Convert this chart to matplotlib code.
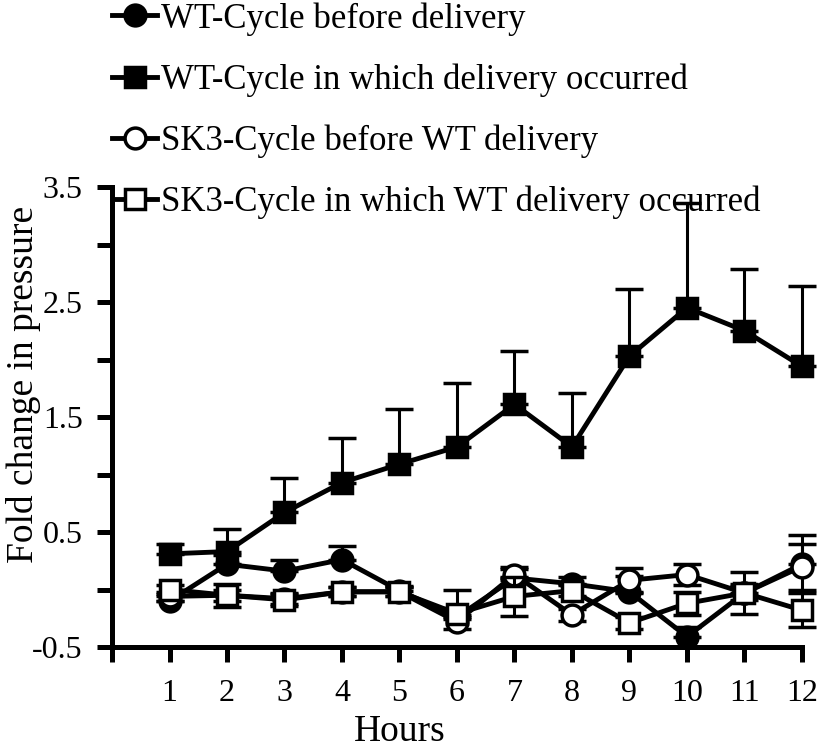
import matplotlib
matplotlib.use('Agg')
from matplotlib import pyplot as plt
from matplotlib.lines import Line2D

plt.rcParams['font.family'] = ['Liberation Serif', 'DejaVu Serif']

hours = [1, 2, 3, 4, 5, 6, 7, 8, 9, 10, 11, 12]

# WT-Cycle before delivery (filled circle)
wt_before = [-0.10, 0.22, 0.16, 0.26, -0.01, -0.24, 0.10, 0.05, -0.02, -0.41, -0.03, 0.22]
wt_before_err = [0.04, 0.08, 0.10, 0.12, 0.04, 0.24, 0.10, 0.06, 0.14, 0.08, 0.08, 0.25]
# WT-Cycle in which delivery occurred (filled square)
wt_deliv = [0.31, 0.33, 0.67, 0.93, 1.09, 1.24, 1.61, 1.24, 2.03, 2.45, 2.25, 1.94]
wt_deliv_err = [0.09, 0.20, 0.30, 0.39, 0.48, 0.56, 0.46, 0.47, 0.58, 0.91, 0.54, 0.70]
# SK3-Cycle before WT delivery (open circle)
sk3_before = [-0.06, -0.05, -0.08, -0.02, -0.02, -0.28, 0.13, -0.22, 0.08, 0.13, -0.03, 0.20]
sk3_before_err = [0.04, 0.05, 0.05, 0.04, 0.04, 0.06, 0.05, 0.05, 0.11, 0.09, 0.06, 0.20]
# SK3-Cycle in which WT delivery occurred (open square)
sk3_deliv = [0.00, -0.05, -0.09, -0.02, -0.02, -0.21, -0.06, -0.01, -0.29, -0.12, -0.03, -0.18]
sk3_deliv_err = [0.04, 0.10, 0.05, 0.04, 0.04, 0.05, 0.17, 0.05, 0.05, 0.10, 0.18, 0.15]

labels = ['WT-Cycle before delivery',
          'WT-Cycle in which delivery occurred',
          'SK3-Cycle before WT delivery',
          'SK3-Cycle in which WT delivery occurred']

fig = plt.figure(figsize=(8.2, 7.48), dpi=100)
ax = fig.add_axes([112 / 820, 1 - 647 / 748, 690 / 820, 460 / 748])

common = dict(color='black', lw=3.5, ms=15, mew=2.5, elinewidth=2.2,
              capsize=10, capthick=3, clip_on=False)

zeros = [0] * len(hours)
h1 = ax.errorbar(hours, wt_before, yerr=[zeros, wt_before_err], fmt='-o',
                 mfc='black', mec='black', zorder=3, **common)
h2 = ax.errorbar(hours, wt_deliv, yerr=[zeros, wt_deliv_err], fmt='-s',
                 mfc='black', mec='black', zorder=4, **common)
h3 = ax.errorbar(hours, sk3_before, yerr=sk3_before_err, fmt='-o',
                 mfc='white', mec='black', zorder=5, **common)
h4 = ax.errorbar(hours, sk3_deliv, yerr=sk3_deliv_err, fmt='-s',
                 mfc='white', mec='black', zorder=6, **common)
for h in (h1, h2, h3, h4):
    for c in h[1]:
        c.set_clip_on(False)
    for b in h[2]:
        b.set_clip_on(False)

ax.set_xlim(0, 12)
ax.set_ylim(-0.5, 3.5)
ax.set_xticks(range(0, 13))
ax.set_xticklabels([''] + [str(h) for h in hours])
yt = [-0.5, 0, 0.5, 1, 1.5, 2, 2.5, 3, 3.5]
ax.set_yticks(yt)
ax.set_yticklabels(['-0.5', '', '0.5', '', '1.5', '', '2.5', '', '3.5'])

for s in ('top', 'right'):
    ax.spines[s].set_visible(False)
for s in ('left', 'bottom'):
    ax.spines[s].set_linewidth(3.6)
ax.tick_params(axis='both', which='major', direction='out', length=11,
               width=3.6, labelsize=23)
ax.tick_params(axis='x', pad=12)
ax.tick_params(axis='y', pad=10)

ax.set_xlabel('Hours', fontsize=27, va='center')
ax.xaxis.set_label_coords(0.417, -0.184)
ax.set_ylabel('Fold change in pressure', fontsize=27, va='center')
ax.yaxis.set_label_coords(-0.128, 0.57)

# legend handles without error bars, as in the original
handles = [
    Line2D([], [], color='black', lw=3.5, marker='o', ms=15, mfc='black', mec='black', mew=2.5),
    Line2D([], [], color='black', lw=3.5, marker='s', ms=15, mfc='black', mec='black', mew=2.5),
    Line2D([], [], color='black', lw=3.5, marker='o', ms=15, mfc='white', mec='black', mew=2.5),
    Line2D([], [], color='black', lw=3.5, marker='s', ms=15, mfc='white', mec='black', mew=2.5),
]
fig.legend(handles, labels, loc='upper left',
           bbox_to_anchor=(112 / 820, 1 - 2 / 748), frameon=False, fontsize=25,
           handlelength=1.3, handletextpad=0.1, labelspacing=0.8,
           borderpad=0.0, borderaxespad=0.0)

plt.savefig('out.png', dpi=100)
